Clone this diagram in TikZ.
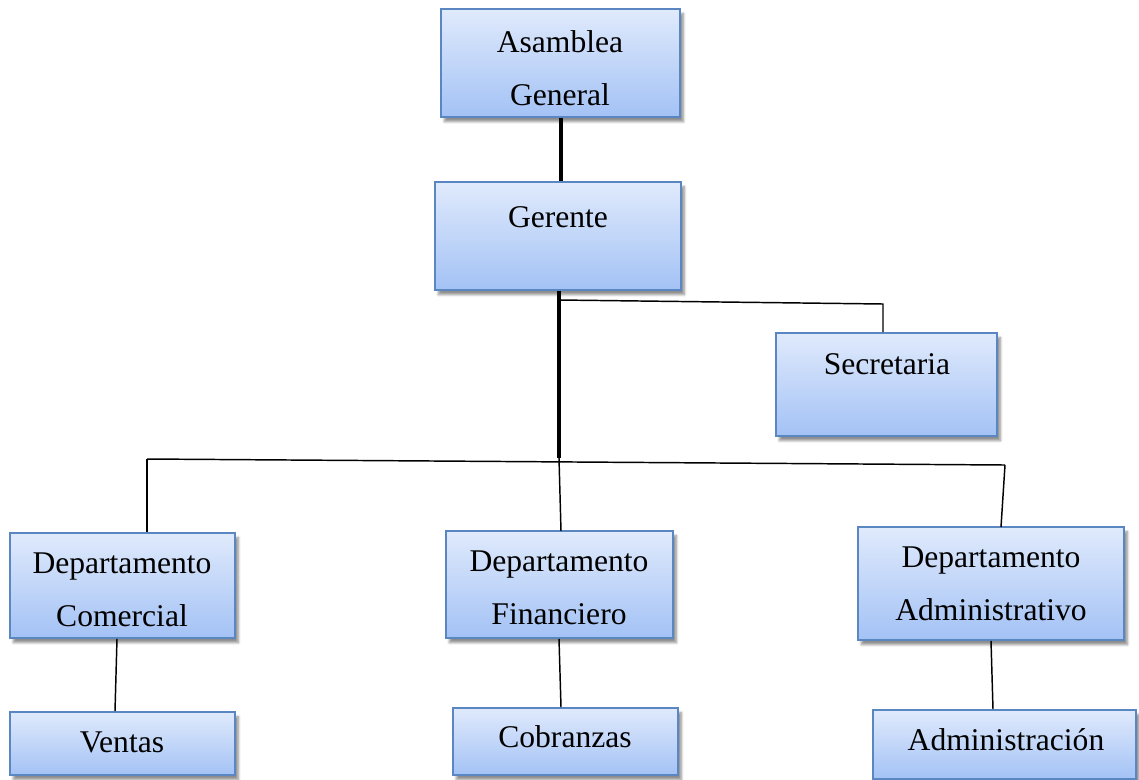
\documentclass[tikz,border=0pt]{standalone}
\usepackage{fontspec}
\setmainfont{Liberation Serif}
\usetikzlibrary{fit,shadows.blur}

\definecolor{boxtop}{HTML}{E0EAFC}
\definecolor{boxbot}{HTML}{A3C2F5}
\definecolor{boxline}{HTML}{5A86C2}

\tikzset{
  orgbox/.style={draw=boxline, line width=1.3pt, inner sep=0pt,
    top color=boxtop, bottom color=boxbot,
    blur shadow={shadow xshift=2.5pt, shadow yshift=-3.5pt, shadow blur steps=6, shadow opacity=45}},
  lbl/.style={align=center, inner sep=0pt, font=\fontsize{23.7}{40}\selectfont},
  thick link/.style={line width=2.6pt, black},
  thin link/.style={line width=1.1pt, black}
}

\begin{document}
\begin{tikzpicture}[x=0.75pt, y=-0.75pt]
\useasboundingbox (0,0) rectangle (1139,779);

% boxes
\node[orgbox, fit={(441,9)(680,117)}]     (asa) {};
\node[orgbox, fit={(435,182)(681,290)}]   (ger) {};
\node[orgbox, fit={(776,333)(997,436)}]   (sec) {};
\node[orgbox, fit={(10,533)(235,638)}]    (com) {};
\node[orgbox, fit={(446,531)(673,638)}]   (fin) {};
\node[orgbox, fit={(858,527)(1124,640)}]  (adm) {};
\node[orgbox, fit={(10,712)(235,775)}]    (ven) {};
\node[orgbox, fit={(453,708)(678,775)}]   (cob) {};
\node[orgbox, fit={(873,710)(1136,779)}]  (ads) {};

% labels
\node[lbl] (tasa) at (560,68)  {Asamblea\\General};
\node[lbl] (tger) at (558,217) {Gerente};
\node[lbl] (tsec) at (887,364) {Secretaria};
\node[lbl] (tcom) at (122,590) {Departamento\\Comercial};
\node[lbl] (tfin) at (559,588) {Departamento\\Financiero};
\node[lbl] (tadm) at (991,584) {Departamento\\Administrativo};
\node[lbl] (tven) at (122,742) {Ventas};
\node[lbl] (tcob) at (565,737) {Cobranzas};
\node[lbl] (tads) at (1006,740) {Administración};

% junction points of the connecting lines
\coordinate (secA) at (559,300);
\coordinate (secB) at (883,304);
\coordinate (busM) at (559,458);
\coordinate (busL) at (147,459);
\coordinate (busR) at (1005,465);
\coordinate (finT) at (561,531);
\coordinate (admT) at (1001,527);

% main line of command
\draw[thick link] (asa.south -| 561,0) -- (ger.north -| 561,0);
\draw[thick link] (ger.south -| 559,0) -- (busM);

% staff branch
\draw[thin link] (secA) -- (secB) -- (sec.north -| secB);

% departments
\draw[thin link] (busL) -- (busR);
\draw[thin link] (busL) -- (com.north -| busL);
\draw[thin link] (busM) -- (finT);
\draw[thin link] (busR) -- (admT);

% sub-units
\draw[thin link] (com.south -| 117,0) -- (ven.north -| 115,0);
\draw[thin link] (fin.south -| 559,0) -- (cob.north -| 561,0);
\draw[thin link] (adm.south -| 991,0) -- (ads.north -| 993,0);
\end{tikzpicture}
\end{document}
